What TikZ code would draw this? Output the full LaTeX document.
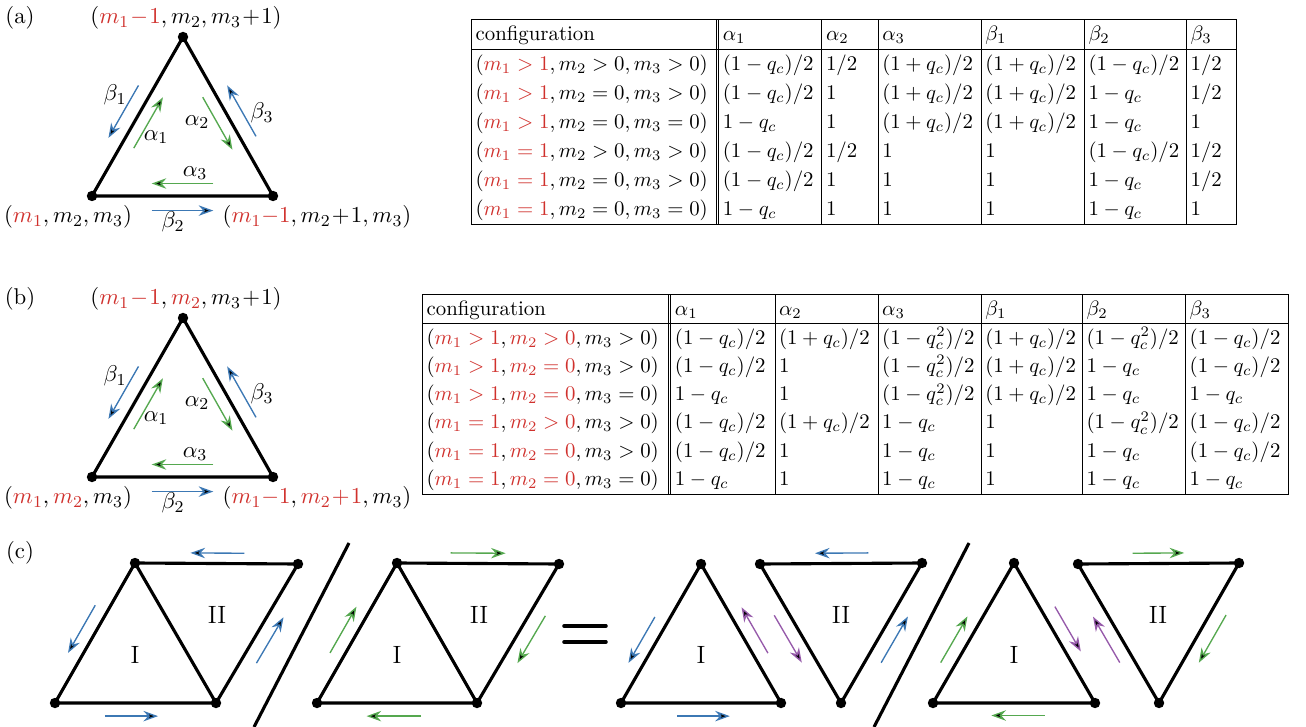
\documentclass[tikz,border=0pt]{standalone}
\usepackage{xcolor}
\definecolor{cred}{HTML}{D0312D}
\definecolor{cblue}{HTML}{3C78B4}
\definecolor{cgreen}{HTML}{55A84F}
\definecolor{cpurple}{HTML}{965AAA}
\usetikzlibrary{arrows.meta,calc}
\newcommand{\edgeflow}[6]{%
  \draw[flow=#1] ($(#2)!#4!(#3)!#6!-90:(#3)$) -- ($(#2)!#5!(#3)!#6!-90:(#3)$);}

\begin{document}
\begin{tikzpicture}[x=0.48pt,y=-0.48pt,
  every node/.style={font=\fontsize{10.95}{13}\selectfont},
  bond/.style={line width=1.5pt,line join=round},
  flow/.style={draw=#1,line width=0.65pt,-{Stealth[length=7pt,width=5pt,fill=black]}},
  dot/.style={circle,fill=black,inner sep=0pt,minimum size=5pt},
  part/.style={font=\large},
  tab/.style={anchor=north west,inner sep=0pt,font=\normalsize}
]
\useasboundingbox (0,0) rectangle (1306,727);

\node (tagA) at (20,18) {(a)};
\coordinate (ta) at (183,37);
\coordinate (la) at (92,196);
\coordinate (ra) at (273,196);
\draw[bond] (ta) -- (la) -- (ra) -- cycle;
\foreach \p in {ta,la,ra} \node[dot] (\p-dot) at (\p) {};
\node (topA) at (186,18) {$(\textcolor{cred}{m_1\!-\!1},m_2,m_3\!+\!1)$};
\node (leftA) at (68,217) {$(\textcolor{cred}{m_1},m_2,m_3)$};
\node (rightA) at (317,217) {$(\textcolor{cred}{m_1{-}1},m_2\!+\!1,m_3)$};
\edgeflow{cblue}{ta}{la}{.35}{.68}{7pt}
\edgeflow{cgreen}{la}{ta}{.34}{.66}{6pt}
\edgeflow{cgreen}{ta}{ra}{.34}{.67}{6pt}
\edgeflow{cblue}{ra}{ta}{.33}{.65}{7pt}
\edgeflow{cgreen}{ra}{la}{.33}{.67}{6pt}
\edgeflow{cblue}{la}{ra}{.33}{.67}{7pt}
\node (b1A) at (115,95) {$\beta_1$};
\node (a1A) at (156,137) {$\alpha_1$};
\node (a2A) at (197,122) {$\alpha_2$};
\node (b3A) at (262,113) {$\beta_3$};
\node (a3A) at (195,173) {$\alpha_3$};
\node (b2A) at (173,222) {$\beta_2$};

\node[tab] (tabA) at (471,19) {\def\arraystretch{1.16}\tabcolsep=2pt\doublerulesep=1pt%
\begin{tabular}{|p{113.7pt}||p{45.5pt}|p{23pt}|p{45.5pt}|p{45.5pt}|p{45pt}|p{20.1pt}|}
\hline
configuration & $\alpha_1$ & $\alpha_2$ & $\alpha_3$ & $\beta_1$ & $\beta_2$ & $\beta_3$\\
\hline
$(\textcolor{cred}{m_1>1},m_2>0,m_3>0)$ & $(1-q_c)/2$ & $1/2$ & $(1+q_c)/2$ & $(1+q_c)/2$ & $(1-q_c)/2$ & $1/2$\\
$(\textcolor{cred}{m_1>1},m_2=0,m_3>0)$ & $(1-q_c)/2$ & $1$ & $(1+q_c)/2$ & $(1+q_c)/2$ & $1-q_c$ & $1/2$\\
$(\textcolor{cred}{m_1>1},m_2=0,m_3=0)$ & $1-q_c$ & $1$ & $(1+q_c)/2$ & $(1+q_c)/2$ & $1-q_c$ & $1$\\
$(\textcolor{cred}{m_1=1},m_2>0,m_3>0)$ & $(1-q_c)/2$ & $1/2$ & $1$ & $1$ & $(1-q_c)/2$ & $1/2$\\
$(\textcolor{cred}{m_1=1},m_2=0,m_3>0)$ & $(1-q_c)/2$ & $1$ & $1$ & $1$ & $1-q_c$ & $1/2$\\
$(\textcolor{cred}{m_1=1},m_2=0,m_3=0)$ & $1-q_c$ & $1$ & $1$ & $1$ & $1-q_c$ & $1$\\
\hline
\end{tabular}};

\begin{scope}[shift={(0,281)}]
\node (tagB) at (20,18) {(b)};
\coordinate (tb) at (183,37);
\coordinate (lb) at (92,196);
\coordinate (rb) at (273,196);
\draw[bond] (tb) -- (lb) -- (rb) -- cycle;
\foreach \p in {tb,lb,rb} \node[dot] (\p-dot) at (\p) {};
\node (topB) at (186,18) {$(\textcolor{cred}{m_1\!-\!1},\textcolor{cred}{m_2},m_3\!+\!1)$};
\node (leftB) at (68,217) {$(\textcolor{cred}{m_1},\textcolor{cred}{m_2},m_3)$};
\node (rightB) at (317,217) {$(\textcolor{cred}{m_1{-}1},\textcolor{cred}{m_2\!+\!1},m_3)$};
\edgeflow{cblue}{tb}{lb}{.35}{.68}{7pt}
\edgeflow{cgreen}{lb}{tb}{.34}{.66}{6pt}
\edgeflow{cgreen}{tb}{rb}{.34}{.67}{6pt}
\edgeflow{cblue}{rb}{tb}{.33}{.65}{7pt}
\edgeflow{cgreen}{rb}{lb}{.33}{.67}{6pt}
\edgeflow{cblue}{lb}{rb}{.33}{.67}{7pt}
\node (b1B) at (115,95) {$\beta_1$};
\node (a1B) at (156,137) {$\alpha_1$};
\node (a2B) at (197,122) {$\alpha_2$};
\node (b3B) at (262,113) {$\beta_3$};
\node (a3B) at (195,173) {$\alpha_3$};
\node (b2B) at (173,222) {$\beta_2$};
\end{scope}

\node[tab] (tabB) at (422,294) {\def\arraystretch{1.13}\tabcolsep=2pt\doublerulesep=1pt%
\begin{tabular}{|p{114.2pt}||p{46pt}|p{45.5pt}|p{45.5pt}|p{44.6pt}|p{45.5pt}|p{45.5pt}|}
\hline
configuration & $\alpha_1$ & $\alpha_2$ & $\alpha_3$ & $\beta_1$ & $\beta_2$ & $\beta_3$\\
\hline
$(\textcolor{cred}{m_1>1},\textcolor{cred}{m_2>0},m_3>0)$ & $(1-q_c)/2$ & $(1+q_c)/2$ & $(1-q_c^2)/2$ & $(1+q_c)/2$ & $(1-q_c^2)/2$ & $(1-q_c)/2$\\
$(\textcolor{cred}{m_1>1},\textcolor{cred}{m_2=0},m_3>0)$ & $(1-q_c)/2$ & $1$ & $(1-q_c^2)/2$ & $(1+q_c)/2$ & $1-q_c$ & $(1-q_c)/2$\\
$(\textcolor{cred}{m_1>1},\textcolor{cred}{m_2=0},m_3=0)$ & $1-q_c$ & $1$ & $(1-q_c^2)/2$ & $(1+q_c)/2$ & $1-q_c$ & $1-q_c$\\
$(\textcolor{cred}{m_1=1},\textcolor{cred}{m_2>0},m_3>0)$ & $(1-q_c)/2$ & $(1+q_c)/2$ & $1-q_c$ & $1$ & $(1-q_c^2)/2$ & $(1-q_c)/2$\\
$(\textcolor{cred}{m_1=1},\textcolor{cred}{m_2=0},m_3>0)$ & $(1-q_c)/2$ & $1$ & $1-q_c$ & $1$ & $1-q_c$ & $(1-q_c)/2$\\
$(\textcolor{cred}{m_1=1},\textcolor{cred}{m_2=0},m_3=0)$ & $1-q_c$ & $1$ & $1-q_c$ & $1$ & $1-q_c$ & $1-q_c$\\
\hline
\end{tabular}};

\node (tagC) at (20,553) {(c)};
\coordinate (a1) at (55,703);
\coordinate (b1) at (216,703);
\coordinate (c1) at (135,563);
\coordinate (d1) at (298,564);
\draw[bond] (a1) -- (b1) -- (d1) -- (c1) -- cycle (c1) -- (b1);
\foreach \p in {a1,b1,c1,d1} \node[dot] (\p-dot) at (\p) {};
\node[part] (I1) at (135,655) {I};
\node[part] (II1) at (217,615) {II};
\edgeflow{cblue}{c1}{a1}{.35}{.69}{6.5pt}
\edgeflow{cblue}{a1}{b1}{.31}{.64}{6.3pt}
\edgeflow{cblue}{d1}{c1}{.33}{.66}{5pt}
\edgeflow{cblue}{b1}{d1}{.34}{.67}{7pt}

\draw[bond] (254,727) -- (349,543);

\coordinate (a2) at (317,703);
\coordinate (b2) at (477,703);
\coordinate (c2) at (397,563);
\coordinate (d2) at (559,564);
\draw[bond] (a2) -- (b2) -- (d2) -- (c2) -- cycle (c2) -- (b2);
\foreach \p in {a2,b2,c2,d2} \node[dot] (\p-dot) at (\p) {};
\node[part] (I2) at (397,655) {I};
\node[part] (II2) at (479,615) {II};
\edgeflow{cgreen}{a2}{c2}{.31}{.64}{-6.5pt}
\edgeflow{cgreen}{b2}{a2}{.35}{.69}{-6.3pt}
\edgeflow{cgreen}{c2}{d2}{.33}{.67}{-5pt}
\edgeflow{cgreen}{d2}{b2}{.32}{.66}{-7pt}

\draw[line width=1.7pt,line cap=round] (564,626) -- (606,626) (564,642) -- (606,642);

\coordinate (a3) at (621,703);
\coordinate (b3) at (781,703);
\coordinate (c3) at (701,564);
\coordinate (e3) at (760,564);
\coordinate (f3) at (922,563);
\coordinate (g3) at (841,703);
\draw[bond] (a3) -- (b3) -- (c3) -- cycle;
\draw[bond] (e3) -- (f3) -- (g3) -- cycle;
\foreach \p in {a3,b3,c3,e3,f3,g3} \node[dot] (\p-dot) at (\p) {};
\node[part] (I3) at (701,655) {I};
\node[part] (II3) at (841,615) {II};
\edgeflow{cblue}{c3}{a3}{.43}{.76}{6.5pt}
\edgeflow{cblue}{a3}{b3}{.35}{.68}{6.3pt}
\edgeflow{cpurple}{b3}{c3}{.31}{.64}{6.5pt}
\edgeflow{cpurple}{e3}{g3}{.32}{.66}{6.5pt}
\edgeflow{cblue}{f3}{e3}{.33}{.66}{5pt}
\edgeflow{cblue}{g3}{f3}{.34}{.67}{7pt}

\draw[bond] (874,727) -- (969,543);

\coordinate (a4) at (933,703);
\coordinate (b4) at (1095,703);
\coordinate (c4) at (1014,563);
\coordinate (e4) at (1078,564);
\coordinate (f4) at (1239,563);
\coordinate (g4) at (1159,703);
\draw[bond] (a4) -- (b4) -- (c4) -- cycle;
\draw[bond] (e4) -- (f4) -- (g4) -- cycle;
\foreach \p in {a4,b4,c4,e4,f4,g4} \node[dot] (\p-dot) at (\p) {};
\node[part] (I4) at (1014,655) {I};
\node[part] (II4) at (1158,615) {II};
\edgeflow{cgreen}{a4}{c4}{.24}{.57}{-6.5pt}
\edgeflow{cgreen}{b4}{a4}{.31}{.64}{-6pt}
\edgeflow{cpurple}{c4}{b4}{.36}{.68}{-6.5pt}
\edgeflow{cpurple}{g4}{e4}{.34}{.67}{-6.5pt}
\edgeflow{cgreen}{e4}{f4}{.34}{.66}{-5pt}
\edgeflow{cgreen}{f4}{g4}{.32}{.66}{-7pt}
\end{tikzpicture}
\end{document}
